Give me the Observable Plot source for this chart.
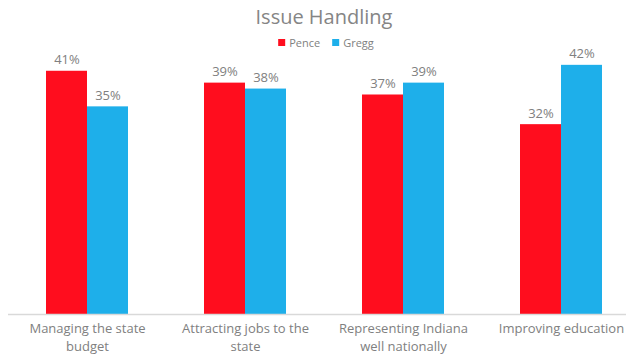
<!DOCTYPE html>
<html>
<head>
<meta charset="utf-8">
<script src="https://cdn.jsdelivr.net/npm/d3@7"></script>
<script src="https://cdn.jsdelivr.net/npm/@observablehq/plot@0.6"></script>
<style>
  body { margin: 0; background: #fff; font-family: "Open Sans", "Noto Sans", sans-serif; }
  #wrap { width: 626px; height: 364px; overflow: hidden; position: relative; }
  #title { position: absolute; left: 324px; top: 0; transform: translateX(-50%); white-space: nowrap; height: 34px; line-height: 34px; font-size: 20px; color: #858585; font-weight: 400; }
  #legend { position: absolute; left: 326px; top: 34px; transform: translateX(-50%); height: 16px; display: flex; align-items: center; font-size: 11px; color: #7f7f7f; gap: 12px; white-space: nowrap; }
  #legend span.sw { display: inline-block; width: 7px; height: 7px; margin-right: 4px; vertical-align: middle; position: relative; top: -1px; }
  #chart { position: absolute; left: 0; top: 50px; }
</style>
</head>
<body>
<div id="wrap">
  <div id="title">Issue Handling</div>
  <div id="legend"></div>
  <div id="chart"></div>
</div>
<script>
const categories = ["Managing the state budget", "Attracting jobs to the state", "Representing Indiana well nationally", "Improving education"];
const tickLabels = ["Managing the state\nbudget", "Attracting jobs to the\nstate", "Representing Indiana\nwell nationally", "Improving education"];
const seriesNames = ["Pence", "Gregg"];
const pence = [41, 39, 37, 32];
const gregg = [35, 38, 39, 42];
const colors = ["#FF0D1E", "#1EAFEA"];

const data = [];
categories.forEach((c, i) => {
  data.push({category: c, series: "Pence", value: pence[i]});
  data.push({category: c, series: "Gregg", value: gregg[i]});
});

const legend = document.getElementById("legend");
seriesNames.forEach((s, i) => {
  const el = document.createElement("div");
  el.innerHTML = `<span class="sw" style="background:${colors[i]}"></span>${s}`;
  legend.appendChild(el);
});

const chart = Plot.plot({
  width: 626,
  height: 314,
  marginTop: 0,
  marginBottom: 50,
  marginLeft: 9,
  marginRight: 0,
  style: {fontFamily: "'Open Sans', 'Noto Sans', sans-serif", background: "#fff", overflow: "visible"},
  fx: {domain: categories, range: [8, 640], padding: 0, label: null},
  x: {domain: seriesNames, paddingInner: 0, paddingOuter: 0.9, axis: null},
  y: {domain: [0, 44.5], axis: null},
  color: {domain: seriesNames, range: colors},
  marks: [
    Plot.barY(data, {fx: "category", x: "series", y: "value", fill: "series", insetLeft: 0, insetRight: 0}),
    Plot.ruleY([0], {stroke: "#d9d9d9", strokeWidth: 1.5}),
    Plot.text(data, {fx: "category", x: "series", y: "value", text: d => d.value + "%", lineAnchor: "bottom", dy: -7, fontSize: 13, fill: "#808080"}),
    Plot.axisFx({anchor: "bottom", tickSize: 0, tickPadding: 6, label: null, fontSize: 13, lineHeight: 1.35, fill: "#808080",
      tickFormat: d => tickLabels[categories.indexOf(d)]})
  ]
});
document.getElementById("chart").appendChild(chart);
</script>
</body>
</html>
